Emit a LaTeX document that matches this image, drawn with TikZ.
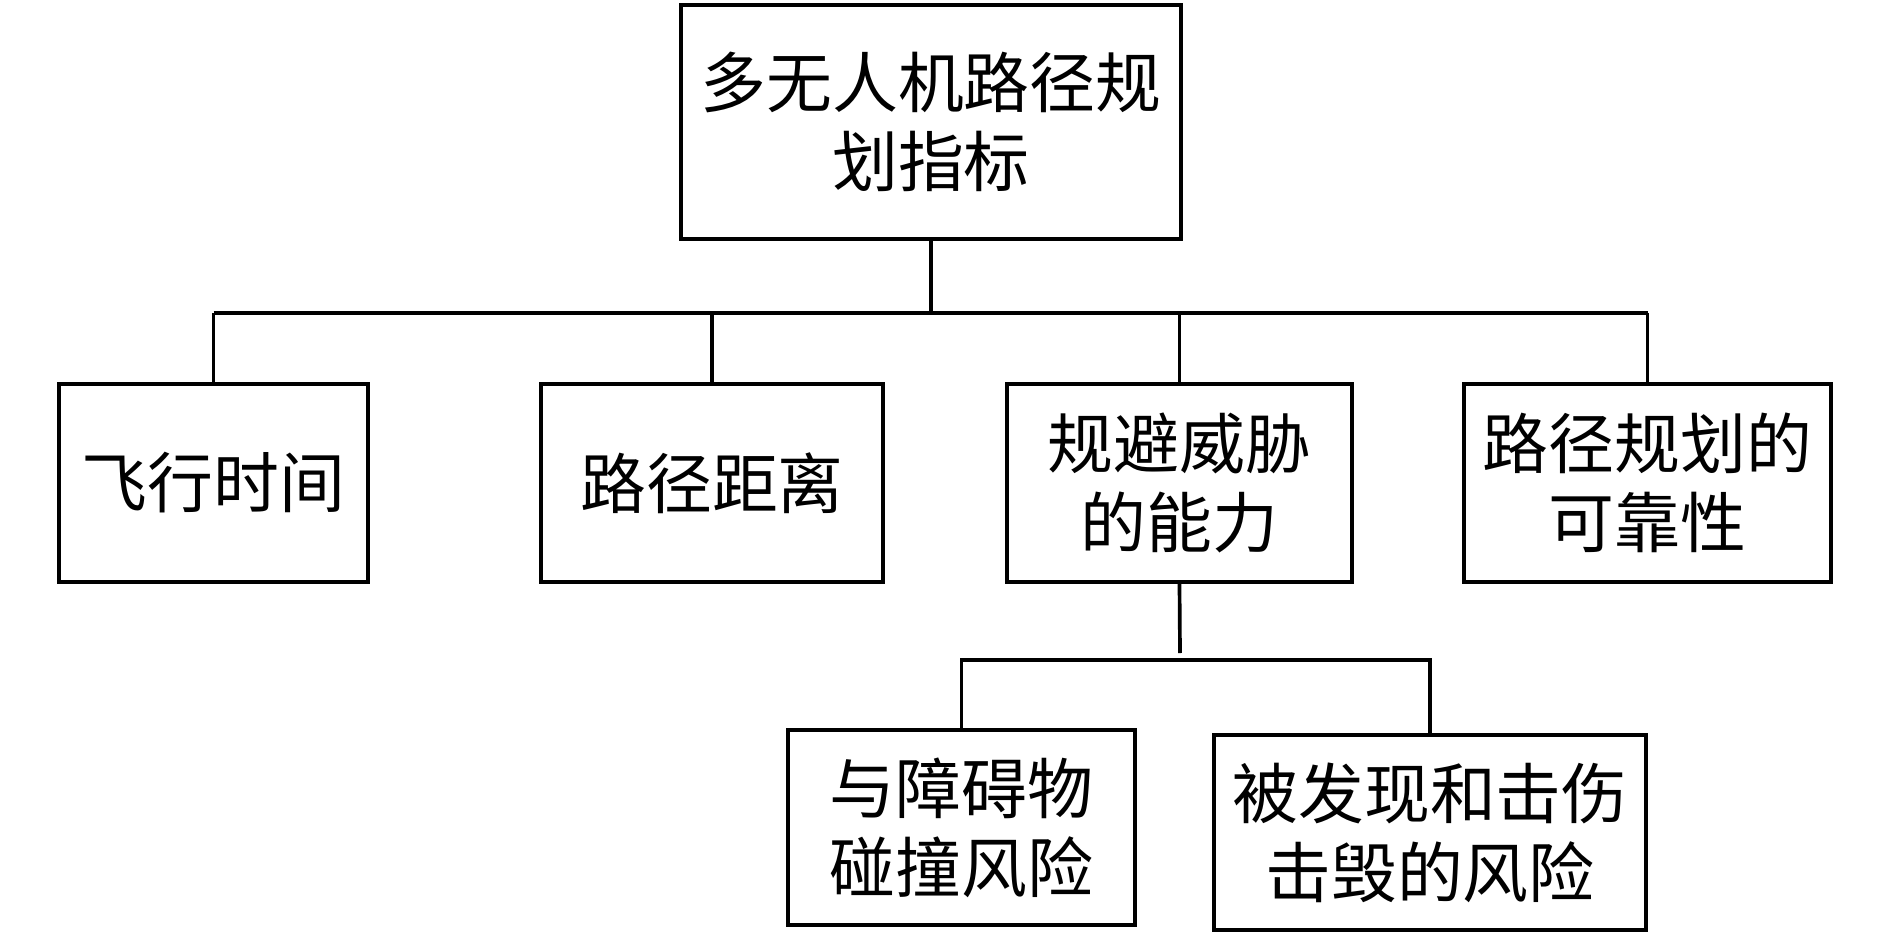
\documentclass[tikz,border=0pt]{standalone}
\usepackage{fontspec}
\usepackage{tikz}
\usetikzlibrary{positioning, calc}
\newfontfamily\cjk{Noto Sans CJK SC}

\begin{document}
\begin{tikzpicture}[x=0.02cm, y=-0.02cm,
    box/.style={draw=black, line width=2.5pt, align=center, inner sep=2pt,
                font=\cjk\fontsize{37.5}{45}\selectfont, minimum height=3.96cm},
    link/.style={draw=black, line width=2.1pt}]
    \useasboundingbox (0,0) rectangle (1890,933);

    % root box
    \node[box, minimum width=10cm, minimum height=4.68cm] (root) at (931,122) {多无人机路径规\\划指标};

    % second level
    \node[box, minimum width=6.18cm] (time) at (213.5,483) {飞行时间};
    \node[box, minimum width=6.84cm] (dist) at (712,483) {路径距离};
    \node[box, minimum width=6.9cm] (avoid) at (1179.5,483) {规避威胁\\的能力};
    \node[box, minimum width=7.34cm] (rel) at (1647.5,483) {路径规划的\\可靠性};

    % third level under avoid
    \node[box, minimum width=6.94cm, minimum height=3.9cm] (crash) at (961.5,827.5) {与障碍物\\碰撞风险};
    \node[box, minimum width=8.64cm, minimum height=3.9cm] (hit) at (1430,832.5) {被发现和击伤\\击毁的风险};

    % bus lines
    \coordinate (bus1) at (931,313);
    \coordinate (stub) at (1180,653);
    \coordinate (bus2) at (1180,660);

    \draw[link] (root.south) -- (bus1);
    \draw[link] (time.north |- bus1) -- (rel.north |- bus1);
    \foreach \n in {time, dist, avoid, rel}
        \draw[link] (\n.north) -- (\n.north |- bus1);

    \draw[link] (avoid.south) -- (stub);
    \draw[link] (crash.north) |- (bus2) -| (hit.north);
\end{tikzpicture}
\end{document}
